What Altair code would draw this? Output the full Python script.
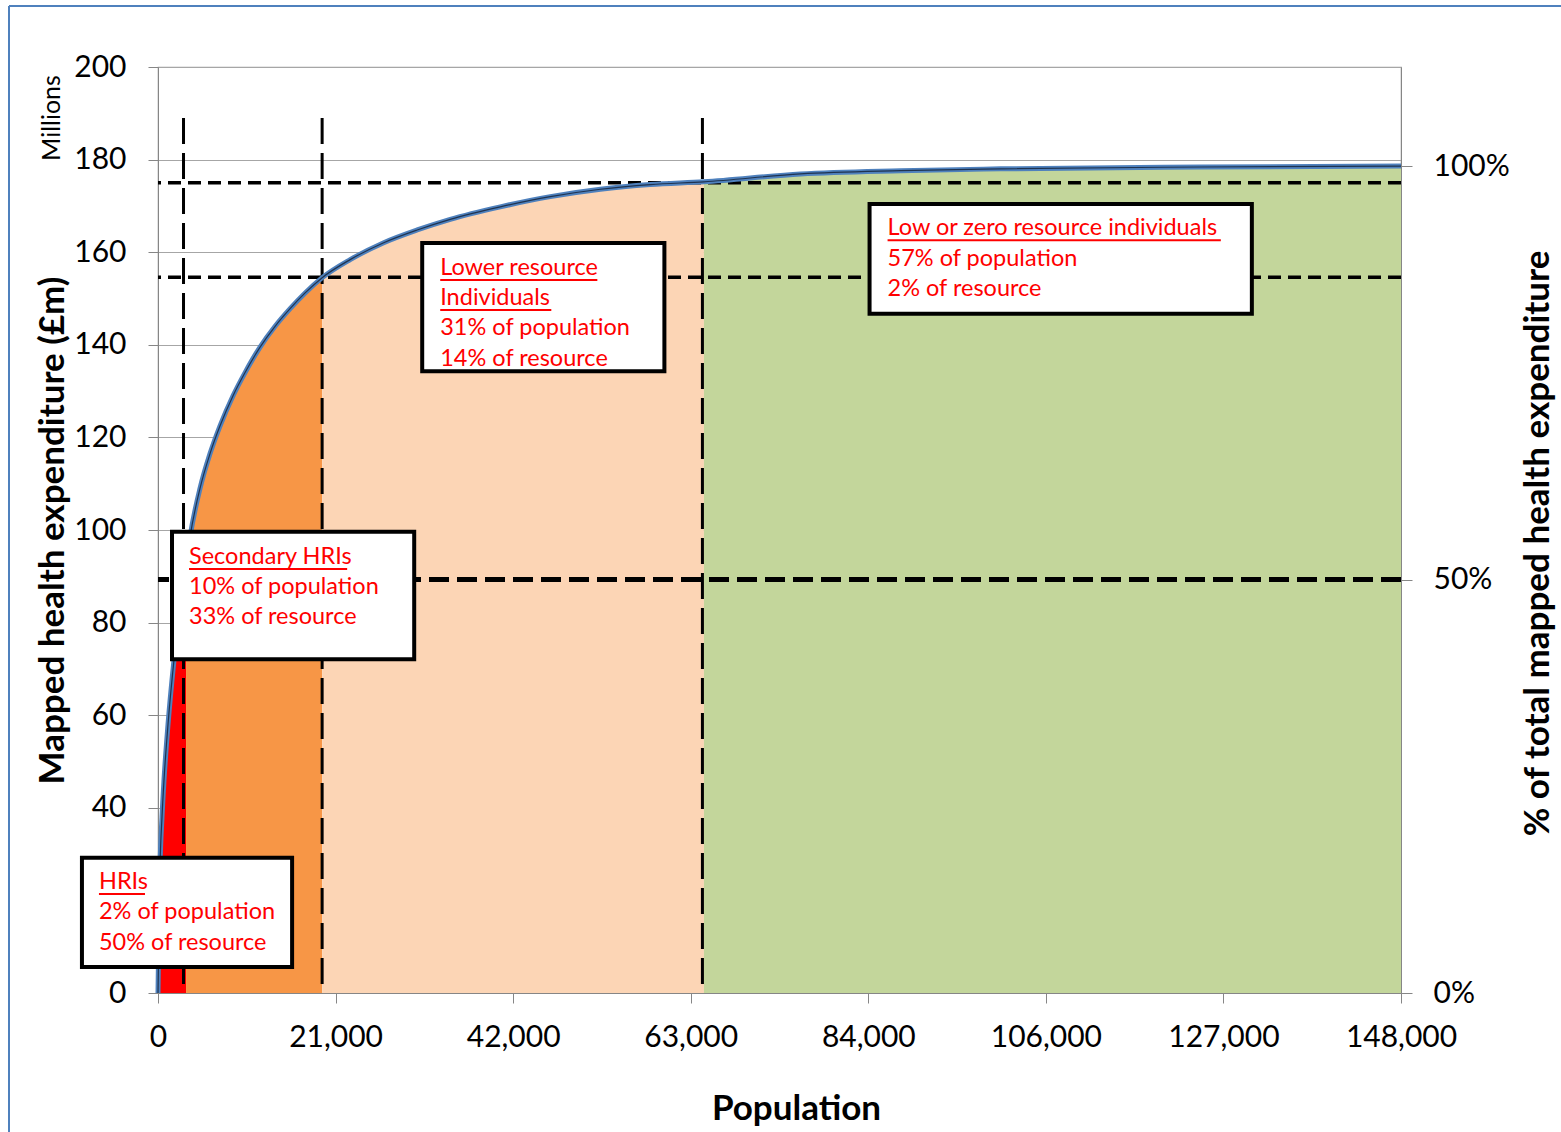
import altair as alt
import pandas as pd

# Cumulative mapped health expenditure (£m) against cumulative population,
# people ordered from highest to lowest cost
population = [0, 119, 238, 477, 715, 1192, 1907, 2979, 3340, 3813, 5005, 6196,
              7388, 8937, 10367, 12154, 13942, 15729, 17517, 19550, 22879,
              26811, 30862, 34795, 40753, 46711, 52669, 58627, 65000, 76500,
              88417, 100333, 124200, 148000]
expenditure = [0, 15, 27, 38, 46, 58, 72, 88, 92.5, 98.5, 109, 116.5,
               122.5, 129, 134, 139.5, 144, 147.8, 151.2, 154.5, 158.4,
               162, 164.8, 167.1, 169.8, 172, 173.6, 174.6, 175.2, 176.9,
               177.6, 178.0, 178.4, 178.6]
total_expenditure = 178.6

# Population groups shaded under the curve
segment_names = ["HRIs", "Secondary HRIs", "Lower resource", "Low or zero resource"]
segment_bounds = [0, 3340, 19550, 65000, 148000]
segment_colors = ["#FF0000", "#F79646", "#FCD5B5", "#C3D69B"]

# Group cut-offs (population) and cumulative expenditure levels (£m)
cut_population = [3038, 19542, 64823]
cut_top = 189
level_lines = [175, 154.6]
half_share = [50]

# Axis ticks
x_ticks = [0, 21143, 42286, 63429, 84571, 105714, 126857, 148000]
x_tick_labels = ["0", "21,000", "42,000", "63,000", "84,000", "106,000", "127,000", "148,000"]
y_ticks = [0, 20, 40, 60, 80, 100, 120, 140, 160, 180, 200]
pct_ticks = [0, 50, 100]

# Annotation boxes
box_x0 = [-9056, 1668, 31458, 84723]
box_x1 = [15967, 30505, 60295, 130242]
box_y0 = [5.6, 72.1, 134.3, 146.7]
box_y1 = [29.2, 99.6, 162.0, 170.4]

note_text = ["HRIs", "2% of population", "50% of resource",
             "Secondary HRIs", "10% of population", "33% of resource",
             "Lower resource", "Individuals", "31% of population", "14% of resource",
             "Low or zero resource individuals", "57% of population", "2% of resource"]
note_x = [-7030, -7030, -7030,
          3694, 3694, 3694,
          33603, 33603, 33603, 33603,
          86868, 86868, 86868]
note_y = [24.0, 17.5, 10.8,
          94.2, 87.7, 81.2,
          156.6, 150.1, 143.6, 136.9,
          165.2, 158.5, 152.1]

underline_x0 = [-7030, 3694, 33603, 33603, 86868]
underline_x1 = [-1549, 22521, 52311, 46830, 126548]
underline_y = [21.4, 91.6, 154.0, 147.5, 162.6]

FONT = "Lato"
W, H = 1243, 926

# ---- tables -------------------------------------------------------------
curve = pd.DataFrame({"pop": population, "val": expenditure})

seg_rows = []
for name, lo, hi in zip(segment_names, segment_bounds[:-1], segment_bounds[1:]):
    for p, v in zip(population, expenditure):
        if lo <= p <= hi:
            seg_rows.append({"pop": p, "val": v, "segment": name})
segments = pd.DataFrame(seg_rows)

cuts = pd.DataFrame({"pop": cut_population, "bottom": 0, "top": cut_top})
levels = pd.DataFrame({"val": level_lines})
half = pd.DataFrame({"pct": half_share})
boxes = pd.DataFrame({"pop": box_x0, "pop2": box_x1, "val": box_y0, "val2": box_y1})
notes = pd.DataFrame({"pop": note_x, "val": note_y, "text": note_text})
unders = pd.DataFrame({"pop": underline_x0, "pop2": underline_x1, "val": underline_y})
single = pd.DataFrame({"t": ["Millions"]})

# ---- scales & axes ------------------------------------------------------
x_scale = alt.Scale(domain=[0, 148000], nice=False, zero=False)
y_scale = alt.Scale(domain=[0, 200], nice=False)
pct_scale = alt.Scale(domain=[0, 100 * 200 / total_expenditure], nice=False)

label_lookup = "{" + ",".join(f"'{v}':'{l}'" for v, l in zip(x_ticks, x_tick_labels)) + "}"
x_axis = alt.Axis(
    values=x_ticks, labelExpr=f"{label_lookup}[datum.value]",
    labelFlush=False, labelOverlap=False,
    grid=False, domainColor="#868686", tickColor="#868686", tickSize=10,
    labelFont=FONT, labelFontSize=30, labelColor="black", labelPadding=19,
    title="Population", titleFont=FONT, titleFontSize=35, titleFontWeight="bold",
    titleColor="black", titleX=638, titleY=115, titleBaseline="middle",
)
y_axis = alt.Axis(
    values=y_ticks, grid=True, gridColor="#A6A6A6", gridWidth=1,
    domainColor="#868686", tickColor="#868686", tickSize=10,
    labelFont=FONT, labelFontSize=30, labelColor="black", labelPadding=22,
    labelFlush=False, labelOverlap=False,
    title="Mapped health expenditure (£m)", titleFont=FONT, titleFontSize=35,
    titleFontWeight="bold", titleColor="black", titleAngle=270,
    titleX=-106, titleY=463, titleBaseline="middle", titleAlign="center",
)
pct_axis = alt.Axis(
    orient="right", values=pct_ticks, labelExpr="datum.value + '%'",
    labelFlush=False, labelOverlap=False,
    grid=False, domainColor="#868686", tickColor="#868686", tickSize=11,
    labelFont=FONT, labelFontSize=30, labelColor="black", labelPadding=21,
    title="% of total mapped health expenditure", titleFont=FONT, titleFontSize=35,
    titleFontWeight="bold", titleColor="black", titleAngle=270,
    titleX=136, titleY=476, titleBaseline="middle", titleAlign="center",
)


def X(field="pop"):
    return alt.X(field, type="quantitative", scale=x_scale, axis=x_axis)


def Y(field="val", axis=None):
    return alt.Y(field, type="quantitative", scale=y_scale, axis=axis, stack=None)


# ---- layers -------------------------------------------------------------
areas = alt.Chart(segments).mark_area(interpolate="monotone", opacity=1).encode(
    x=X(), y=Y(axis=y_axis),
    color=alt.Color("segment:N", scale=alt.Scale(domain=segment_names, range=segment_colors), legend=None),
)

level_rules = alt.Chart(levels).mark_rule(
    color="black", strokeWidth=3.5, strokeDash=[13, 7]
).encode(y=Y())

cut_rules = alt.Chart(cuts).mark_rule(
    color="black", strokeWidth=3, strokeDash=[26, 9]
).encode(x=X(), y=Y("top"), y2="bottom")

half_rule = alt.Chart(half).mark_rule(
    color="black", strokeWidth=5, strokeDash=[20, 8]
).encode(y=alt.Y("pct", type="quantitative", scale=pct_scale, axis=pct_axis))

curve_outer = alt.Chart(curve).mark_line(
    interpolate="monotone", color="#4F81BD", strokeWidth=5
).encode(x=X(), y=Y())
curve_inner = alt.Chart(curve).mark_line(
    interpolate="monotone", color="#1F3350", strokeWidth=1.2
).encode(x=X(), y=Y())

box_marks = alt.Chart(boxes).mark_rect(
    fill="white", stroke="black", strokeWidth=4
).encode(x=X(), x2="pop2", y=Y(), y2="val2")

note_marks = alt.Chart(notes).mark_text(
    align="left", baseline="middle", font=FONT, fontSize=23.5, color="#FF0000"
).encode(x=X(), y=Y(), text="text")

underline_marks = alt.Chart(unders).mark_rule(
    color="#FF0000", strokeWidth=2
).encode(x=X(), x2="pop2", y=Y())

millions = alt.Chart(single).mark_text(
    font=FONT, fontSize=25, angle=270, color="black", baseline="middle", align="center"
).encode(x=alt.value(-106), y=alt.value(51), text="t")

frame_top = alt.Chart(single).mark_rule(color="#4F81BD", strokeWidth=2).encode(
    x=alt.value(-149), x2=alt.value(1403), y=alt.value(-61)
)
frame_left = alt.Chart(single).mark_rule(color="#4F81BD", strokeWidth=2).encode(
    x=alt.value(-149), y=alt.value(-61), y2=alt.value(1070)
)

chart = alt.layer(
    areas, level_rules, cut_rules, half_rule, curve_outer, curve_inner,
    box_marks, note_marks, underline_marks, millions, frame_top, frame_left,
).resolve_scale(y="independent").properties(
    width=W, height=H,
    autosize=alt.AutoSizeParams(type="none"),
    padding={"left": 158, "top": 67, "right": 160, "bottom": 139},
    background="white",
).configure_view(stroke="#A0A0A0", strokeWidth=1.2)

chart.save("out.html", embed_options={"renderer": "svg", "actions": False})
